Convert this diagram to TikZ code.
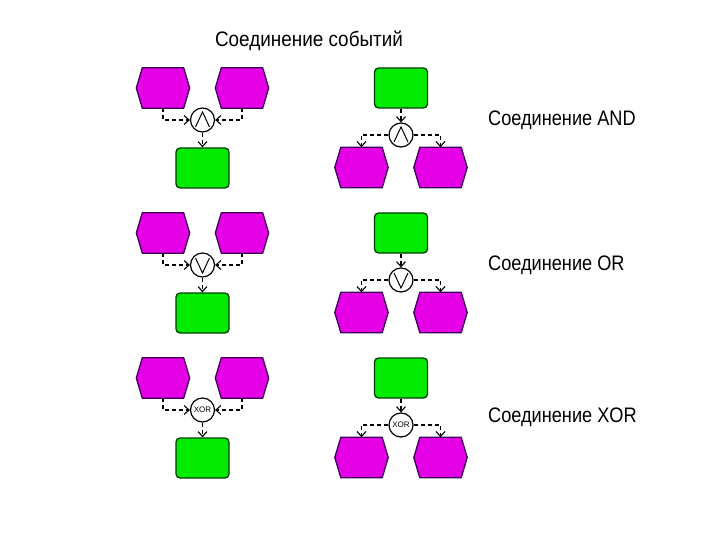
\documentclass[tikz,border=0pt]{standalone}
\usepackage{fontspec}
\setmainfont{Liberation Sans}
\usetikzlibrary{arrows.meta}
\definecolor{evfill}{RGB}{230,0,230}
\definecolor{evline}{RGB}{60,0,90}
\definecolor{fnfill}{RGB}{0,235,0}
\definecolor{fnline}{RGB}{0,60,0}
\newcommand\hexdraw[1]{\filldraw[draw=evline,fill=evfill,line width=1.3pt,line join=round]
  (#1.west) -- ([xshift=6pt]#1.north west) -- ([xshift=-6pt]#1.north east) -- (#1.east)
  -- ([xshift=-6pt]#1.south east) -- ([xshift=6pt]#1.south west) -- cycle;}
\begin{document}
\begin{tikzpicture}[x=1pt,y=-1pt,
  evbox/.style={minimum width=53pt,minimum height=40pt,inner sep=0pt,draw=none},
  fnbox/.style={draw=fnline,fill=fnfill,line width=1.3pt,rounded corners=4pt,minimum width=53pt,minimum height=40pt,inner sep=0pt},
  conbox/.style={circle,draw=black,line width=1.2pt,minimum size=24pt,inner sep=0pt,fill=white,font=\fontsize{8}{9}\selectfont},
  conn/.style={dash pattern=on 4pt off 3pt,line width=1.1pt,-{Straight Barb[length=5pt,width=9pt]}},
  symline/.style={line width=1pt,line join=miter},
  lbl/.style={font=\fontsize{21}{24}\selectfont,anchor=west,xscale=0.865,inner sep=0pt}
]
\fill[white] (0,0) rectangle (720,540);
\useasboundingbox (0,0) rectangle (720,540);

\node[font=\fontsize{21}{24}\selectfont,inner sep=0pt,xscale=0.9] (title) at (309,41) {Соединение событий};

\foreach \r in {0,1,2}{
  \pgfmathsetmacro\dy{145*\r}
  % left column: join
  \node[evbox] (a\r) at (163,88+\dy) {};
  \node[evbox] (b\r) at (242,88+\dy) {};
  \hexdraw{a\r}
  \hexdraw{b\r}
  \node[fnbox] (f\r) at (202.5,168+\dy) {};
  % right column: split
  \node[fnbox] (g\r) at (401,88+\dy) {};
  \node[evbox] (c\r) at (361.5,167.5+\dy) {};
  \node[evbox] (d\r) at (440.5,167.5+\dy) {};
  \hexdraw{c\r}
  \hexdraw{d\r}
}

% connectors (circles)
\node[conbox] (j0) at (202.5,120) {};
\node[conbox] (s0) at (401,135) {};
\node[conbox] (j1) at (202.5,265) {};
\node[conbox] (s1) at (401,280) {};
\node[conbox] (j2) at (202.5,410) {XOR};
\node[conbox] (s2) at (401,425) {XOR};

\foreach \r in {0,1,2}{
  \draw[conn] (a\r.south) |- (j\r.west);
  \draw[conn] (b\r.south) |- (j\r.east);
  \draw[conn] (j\r.south) -- (f\r.north);
  \draw[conn] (g\r.south) -- (s\r.north);
  \draw[conn] (s\r.west) -| (c\r.north);
  \draw[conn] (s\r.east) -| (d\r.north);
}

% AND symbols
\foreach \n in {j0,s0}{
  \draw[symline] ([shift={(-7,7)}]\n.center) -- ([shift={(0,-8)}]\n.center) -- ([shift={(7,7)}]\n.center);
}
% OR symbols
\foreach \n in {j1,s1}{
  \draw[symline] ([shift={(-7,-7)}]\n.center) -- ([shift={(0,8)}]\n.center) -- ([shift={(7,-7)}]\n.center);
}

\node[lbl] (land) at (488,120) {Соединение AND};
\node[lbl] (lor) at (488,265) {Соединение OR};
\node[lbl] (lxor) at (488,417) {Соединение XOR};
\end{tikzpicture}
\end{document}
